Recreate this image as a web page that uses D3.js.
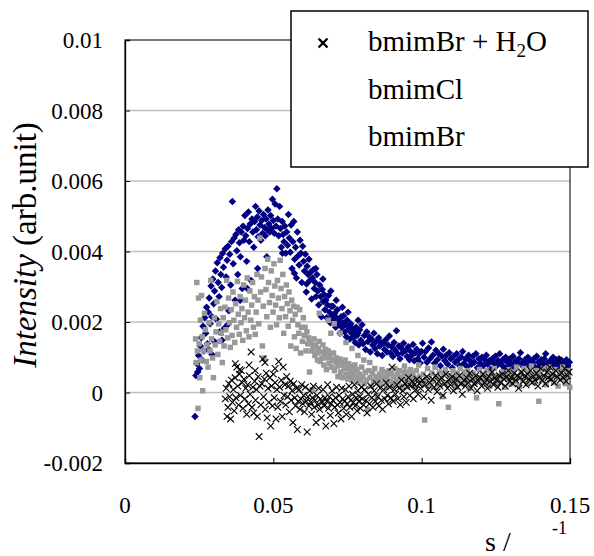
<!DOCTYPE html>
<html>
<head>
<meta charset="utf-8">
<script src="https://cdn.jsdelivr.net/npm/d3@7"></script>
<style>
  body { margin: 0; background: #fff; }
</style>
</head>
<body>
<svg id="chart" width="594" height="556"></svg>
<script>
// s (1/A), intensity (arb.unit)
const bmimBr = [
  [0.0236,-0.00068],[0.0239,0.00048],[0.0242,0.00082],[0.0245,0.00058],[0.0248,0.00105],[0.0251,0.00068],[0.0254,0.00132],[0.0257,0.00155],[0.0260,0.00092],[0.0263,0.00188],
  [0.0266,0.00118],[0.0269,0.00212],[0.0272,0.00168],[0.0275,0.00242],[0.0278,0.00138],[0.0281,0.00228],[0.0284,0.00268],[0.0287,0.00195],[0.0290,0.00302],[0.0293,0.00215],
  [0.0296,0.00322],[0.0299,0.00252],[0.0302,0.00288],[0.0305,0.00345],[0.0308,0.00208],[0.0311,0.00368],[0.0314,0.00312],[0.0317,0.00272],[0.0320,0.00382],[0.0323,0.00335],
  [0.0326,0.00298],[0.0329,0.00395],[0.0332,0.00355],[0.0335,0.00182],[0.0338,0.00408],[0.0341,0.00328],[0.0344,0.00375],[0.0347,0.00415],[0.0350,0.00232],[0.0283,0.00122],
  [0.0301,0.00145],[0.0318,0.00172],[0.0353,0.00392],[0.0356,0.00305],[0.0359,0.00428],[0.0362,0.00542],[0.0365,0.00365],[0.0368,0.00438],[0.0371,0.00262],[0.0374,0.00448],
  [0.0377,0.00402],[0.0380,0.00335],[0.0383,0.00462],[0.0386,0.00425],[0.0389,0.00385],[0.0392,0.00455],[0.0395,0.00295],[0.0398,0.00472],[0.0401,0.00432],[0.0404,0.00502],
  [0.0407,0.00445],[0.0410,0.00372],[0.0413,0.00465],[0.0416,0.00512],[0.0419,0.00428],[0.0422,0.00478],[0.0425,0.00318],[0.0428,0.00492],[0.0431,0.00455],[0.0434,0.00412],
  [0.0437,0.00485],[0.0440,0.00528],[0.0443,0.00462],[0.0446,0.00498],[0.0449,0.00442],[0.0452,0.00515],[0.0455,0.00475],[0.0458,0.00432],[0.0461,0.00488],[0.0464,0.00452],
  [0.0467,0.00505],[0.0470,0.00468],[0.0473,0.00445],[0.0476,0.00492],[0.0479,0.00462],[0.0482,0.00518],[0.0485,0.00478],[0.0488,0.00455],[0.0491,0.00502],[0.0494,0.00465],
  [0.0497,0.00548],[0.0500,0.00488],[0.0503,0.00452],[0.0506,0.00535],[0.0509,0.00472],[0.0512,0.00578],[0.0515,0.00492],[0.0518,0.00445],[0.0521,0.00528],[0.0524,0.00465],
  [0.0527,0.00412],[0.0530,0.00485],[0.0533,0.00448],[0.0536,0.00428],[0.0539,0.00472],[0.0542,0.00395],[0.0545,0.00455],[0.0548,0.00418],[0.0551,0.00505],[0.0554,0.00438],
  [0.0557,0.00398],[0.0560,0.00475],[0.0563,0.00352],[0.0566,0.00428],[0.0569,0.00485],[0.0572,0.00378],[0.0575,0.00412],[0.0578,0.00325],[0.0581,0.00455],[0.0584,0.00388],
  [0.0587,0.00362],[0.0590,0.00432],[0.0593,0.00395],[0.0596,0.00312],[0.0599,0.00415],[0.0602,0.00372],[0.0605,0.00345],[0.0608,0.00392],[0.0611,0.00285],[0.0614,0.00358],
  [0.0617,0.00335],[0.0620,0.00378],[0.0623,0.00318],[0.0626,0.00342],[0.0629,0.00265],[0.0632,0.00325],[0.0635,0.00348],[0.0638,0.00295],[0.0641,0.00312],[0.0644,0.00272],
  [0.0647,0.00335],[0.0650,0.00288],[0.0653,0.00248],[0.0656,0.00305],[0.0659,0.00272],[0.0662,0.00215],[0.0665,0.00292],[0.0668,0.00258],[0.0671,0.00278],[0.0674,0.00235],
  [0.0677,0.00262],[0.0680,0.00212],[0.0683,0.00248],[0.0686,0.00275],[0.0689,0.00228],[0.0692,0.00198],[0.0695,0.00245],[0.0698,0.00218],[0.0701,0.00245],[0.0704,0.00205],
  [0.0707,0.00225],[0.0710,0.00185],[0.0713,0.00212],[0.0716,0.00235],[0.0719,0.00192],[0.0722,0.00205],[0.0725,0.00168],[0.0728,0.00215],[0.0731,0.00185],[0.0734,0.00198],
  [0.0737,0.00218],[0.0740,0.00172],[0.0743,0.00192],[0.0746,0.00158],[0.0749,0.00205],[0.0752,0.00178],[0.0755,0.00188],[0.0758,0.00152],[0.0761,0.00195],[0.0764,0.00168],
  [0.0767,0.00182],[0.0770,0.00155],[0.0773,0.00175],[0.0776,0.00142],[0.0779,0.00185],[0.0782,0.00162],[0.0785,0.00168],[0.0788,0.00135],[0.0791,0.00178],[0.0795,0.00148],
  [0.0799,0.00192],[0.0803,0.00138],[0.0807,0.00162],[0.0811,0.00122],[0.0815,0.00172],[0.0819,0.00145],[0.0823,0.00158],[0.0827,0.00115],[0.0831,0.00152],[0.0835,0.00135],
  [0.0839,0.00168],[0.0843,0.00125],[0.0847,0.00145],[0.0851,0.00110],[0.0855,0.00155],[0.0859,0.00132],[0.0863,0.00142],[0.0867,0.00105],[0.0871,0.00140],[0.0875,0.00122],
  [0.0879,0.00150],[0.0883,0.00115],[0.0887,0.00135],[0.0891,0.00160],[0.0895,0.00112],[0.0899,0.00130],[0.0903,0.00102],[0.0907,0.00142],[0.0911,0.00120],[0.0915,0.00175],
  [0.0919,0.00110],[0.0923,0.00132],[0.0927,0.00096],[0.0931,0.00126],[0.0935,0.00112],[0.0939,0.00140],[0.0943,0.00057],[0.0947,0.00120],[0.0951,0.00102],[0.0955,0.00130],
  [0.0959,0.00093],[0.0963,0.00116],[0.0967,0.00106],[0.0971,0.00136],[0.0975,0.00090],[0.0979,0.00113],[0.0983,0.00123],[0.0987,0.00096],[0.0991,0.00110],[0.0995,0.00084],
  [0.0999,0.00116],[0.1003,0.00140],[0.1008,0.00100],[0.1013,0.00116],[0.1018,0.00086],[0.1023,0.00126],[0.1028,0.00096],[0.1033,0.00143],[0.1038,0.00106],[0.1043,0.00083],
  [0.1048,0.00120],[0.1053,0.00093],[0.1058,0.00110],[0.1063,0.00076],[0.1068,0.00103],[0.1073,0.00123],[0.1078,0.00090],[0.1083,0.00106],[0.1088,0.00080],[0.1093,0.00113],
  [0.1098,0.00096],[0.1103,0.00070],[0.1108,0.00103],[0.1113,0.00086],[0.1118,0.00110],[0.1123,0.00093],[0.1128,0.00076],[0.1133,0.00100],[0.1138,0.00116],[0.1143,0.00083],
  [0.1148,0.00096],[0.1153,0.00073],[0.1158,0.00106],[0.1163,0.00090],[0.1168,0.00080],[0.1173,0.00103],[0.1178,0.00086],[0.1183,0.00110],[0.1188,0.00070],[0.1193,0.00096],
  [0.1198,0.00083],[0.1203,0.00100],[0.1208,0.00076],[0.1213,0.00093],[0.1218,0.00106],[0.1223,0.00080],[0.1228,0.00090],[0.1233,0.00066],[0.1238,0.00096],[0.1243,0.00083],
  [0.1248,0.00103],[0.1253,0.00076],[0.1258,0.00090],[0.1263,0.00110],[0.1268,0.00080],[0.1273,0.00093],[0.1278,0.00070],[0.1283,0.00100],[0.1288,0.00086],[0.1293,0.00076],
  [0.1298,0.00096],[0.1303,0.00083],[0.1308,0.00103],[0.1313,0.00070],[0.1318,0.00090],[0.1323,0.00080],[0.1328,0.00096],[0.1333,0.00113],[0.1338,0.00083],[0.1343,0.00073],
  [0.1348,0.00093],[0.1353,0.00086],[0.1358,0.00100],[0.1363,0.00076],[0.1368,0.00090],[0.1373,0.00083],[0.1378,0.00096],[0.1383,0.00070],[0.1388,0.00103],[0.1393,0.00086],
  [0.1398,0.00076],[0.1403,0.00093],[0.1408,0.00080],[0.1413,0.00096],[0.1418,0.00110],[0.1423,0.00083],[0.1428,0.00070],[0.1433,0.00090],[0.1438,0.00086],[0.1443,0.00100],
  [0.1448,0.00076],[0.1453,0.00093],[0.1458,0.00083],[0.1463,0.00096],[0.1468,0.00073],[0.1473,0.00090],[0.1478,0.00086],[0.1483,0.00080],[0.1488,0.00093],[0.1493,0.00076],
  [0.1498,0.00086],[0.0293,0.00108],[0.0327,0.00148],[0.0346,0.00192],[0.0388,0.00262],[0.0412,0.00295],[0.0447,0.00352],[0.0478,0.00385],[0.0531,0.00395],[0.0571,0.00338],
  [0.0612,0.00308],[0.0643,0.00352],[0.0667,0.00322],[0.0694,0.00288],[0.0712,0.00262],[0.0733,0.00242],[0.0752,0.00228],[0.0786,0.00205]
]

const bmimCl = [
  [0.0238,0.00152],[0.0240,0.00085],[0.0242,0.00312],[0.0244,0.00118],[0.0246,-0.00045],[0.0248,0.00268],[0.0250,0.00138],[0.0252,0.00042],[0.0254,0.00205],[0.0256,0.00092],
  [0.0258,0.00275],[0.0260,0.00158],[0.0262,0.00005],[0.0265,0.00118],[0.0268,0.00225],[0.0271,0.00178],[0.0274,0.00088],[0.0277,0.00135],[0.0280,0.00072],[0.0283,0.00198],
  [0.0286,0.00118],[0.0289,0.00318],[0.0292,0.00152],[0.0295,0.00098],[0.0298,0.00042],[0.0301,0.00212],[0.0304,0.00135],[0.0307,0.00172],[0.0310,0.00258],[0.0313,0.00108],
  [0.0316,0.00195],[0.0319,0.00145],[0.0322,0.00238],[0.0325,0.00168],[0.0328,0.00085],[0.0331,0.00212],[0.0334,0.00132],[0.0337,0.00242],[0.0340,0.00178],[0.0343,0.00318],
  [0.0346,0.00155],[0.0349,0.00268],[0.0352,0.00198],[0.0355,0.00128],[0.0358,0.00235],[0.0361,0.00162],[0.0364,0.00285],[0.0367,0.00205],[0.0370,0.00142],[0.0373,0.00252],
  [0.0376,0.00185],[0.0379,0.00315],[0.0382,0.00222],[0.0385,0.00165],[0.0388,0.00272],[0.0391,0.00198],[0.0394,0.00238],[0.0397,0.00148],[0.0400,0.00305],[0.0403,0.00212],
  [0.0406,0.00262],[0.0409,0.00175],[0.0412,0.00325],[0.0415,0.00228],[0.0418,0.00158],[0.0421,0.00288],[0.0424,0.00205],[0.0427,0.00248],[0.0430,0.00312],[0.0433,0.00185],
  [0.0436,0.00272],[0.0439,0.00165],[0.0442,0.00228],[0.0445,0.00335],[0.0448,0.00262],[0.0451,0.00195],[0.0454,0.00438],[0.0457,0.00285],[0.0460,0.00328],[0.0463,0.00132],
  [0.0466,0.00245],[0.0469,0.00098],[0.0472,0.00352],[0.0475,0.00292],[0.0478,0.00215],[0.0481,0.00378],[0.0484,0.00312],[0.0487,0.00255],[0.0490,0.00185],[0.0493,0.00345],
  [0.0496,0.00275],[0.0499,0.00228],[0.0502,0.00365],[0.0505,0.00302],[0.0508,0.00248],[0.0511,0.00192],[0.0514,0.00318],[0.0517,0.00268],[0.0520,0.00212],[0.0523,0.00375],
  [0.0526,0.00295],[0.0529,0.00238],[0.0532,0.00335],[0.0535,0.00168],[0.0538,0.00272],[0.0541,0.00215],[0.0544,0.00305],[0.0547,0.00252],[0.0550,0.00188],[0.0553,0.00285],
  [0.0556,0.00232],[0.0559,0.00132],[0.0562,0.00262],[0.0565,0.00205],[0.0568,0.00245],[0.0571,0.00158],[0.0574,0.00222],[0.0577,0.00125],[0.0580,0.00242],[0.0583,0.00192],
  [0.0586,0.00168],[0.0589,0.00235],[0.0592,0.00112],[0.0595,0.00185],[0.0598,0.00145],[0.0601,0.00212],[0.0604,0.00162],[0.0607,0.00185],[0.0610,0.00118],[0.0613,0.00172],
  [0.0616,0.00138],[0.0619,0.00155],[0.0622,0.00058],[0.0625,0.00142],[0.0628,0.00118],[0.0631,0.00008],[0.0634,0.00128],[0.0637,0.00152],[0.0640,0.00105],[0.0643,0.00135],
  [0.0646,0.00112],[0.0649,0.00092],[0.0652,0.00125],[0.0655,0.00145],[0.0658,0.00088],[0.0661,0.00115],[0.0664,0.00098],[0.0667,0.00135],[0.0670,0.00078],[0.0673,0.00108],
  [0.0676,0.00122],[0.0679,0.00065],[0.0682,0.00098],[0.0685,0.00118],[0.0688,0.00082],[0.0691,0.00105],[0.0694,0.00168],[0.0697,0.00072],[0.0700,0.00092],[0.0703,0.00112],
  [0.0706,0.00062],[0.0709,0.00088],[0.0712,0.00098],[0.0715,0.00075],[0.0718,0.00045],[0.0721,0.00082],[0.0724,0.00095],[0.0727,0.00058],[0.0730,0.00078],[0.0733,0.00042],
  [0.0736,0.00085],[0.0739,0.00068],[0.0742,0.00092],[0.0745,0.00052],[0.0748,0.00072],[0.0751,0.00038],[0.0754,0.00082],[0.0757,0.00062],[0.0760,0.00048],[0.0763,0.00075],
  [0.0766,0.00035],[0.0769,0.00068],[0.0772,0.00055],[0.0775,0.00078],[0.0778,0.00042],[0.0782,0.00065],[0.0786,0.00028],[0.0790,0.00052],[0.0794,0.00038],[0.0798,0.00072],
  [0.0802,0.00045],[0.0806,0.00025],[0.0810,0.00058],[0.0814,0.00035],[0.0818,-0.00048],[0.0822,0.00062],[0.0826,0.00042],[0.0830,0.00018],[0.0834,0.00055],[0.0838,0.00032],
  [0.0842,0.00068],[0.0846,0.00045],[0.0850,-0.00008],[0.0854,0.00038],[0.0858,0.00052],[0.0862,0.00025],[0.0866,0.00065],[0.0870,0.00042],[0.0874,0.00058],[0.0878,0.00035],
  [0.0882,0.00015],[0.0886,0.00048],[0.0890,0.00062],[0.0894,0.00032],[0.0898,0.00055],[0.0902,0.00022],[0.0906,0.00045],[0.0910,0.00068],[0.0914,0.00035],[0.0918,0.00052],
  [0.0922,0.00028],[0.0926,0.00062],[0.0930,0.00042],[0.0934,0.00018],[0.0938,0.00055],[0.0942,0.00075],[0.0946,0.00038],[0.0950,0.00058],[0.0954,0.00025],[0.0958,0.00048],
  [0.0962,0.00065],[0.0966,0.00032],[0.0970,0.00055],[0.0974,0.00042],[0.0978,0.00015],[0.0982,0.00062],[0.0986,0.00038],[0.0990,0.00078],[0.0994,0.00045],[0.0998,0.00028],
  [0.1005,0.00052],[0.1010,-0.00078],[0.1015,0.00035],[0.1020,0.00068],[0.1025,0.00042],[0.1030,0.00018],[0.1035,0.00055],[0.1040,0.00032],[0.1045,0.00072],[0.1050,0.00045],
  [0.1055,0.00022],[0.1060,0.00058],[0.1065,0.00038],[0.1070,-0.00012],[0.1075,0.00052],[0.1080,0.00065],[0.1085,0.00028],[0.1090,-0.00042],[0.1095,0.00048],[0.1100,0.00035],
  [0.1105,0.00062],[0.1110,0.00042],[0.1115,0.00015],[0.1120,0.00055],[0.1125,0.00032],[0.1130,0.00068],[0.1135,0.00045],[0.1140,0.00025],[0.1145,0.00058],[0.1150,0.00038],
  [0.1155,0.00062],[0.1160,0.00012],[0.1165,0.00048],[0.1170,0.00035],[0.1175,0.00055],[0.1180,0.00028],[0.1185,-0.00015],[0.1190,0.00042],[0.1195,0.00065],[0.1200,0.00038],
  [0.1205,0.00052],[0.1210,0.00022],[0.1215,0.00045],[0.1220,0.00062],[0.1225,0.00032],[0.1230,0.00018],[0.1235,0.00055],[0.1240,0.00042],[0.1245,0.00068],[0.1250,0.00028],
  [0.1255,0.00048],[0.1260,-0.00032],[0.1265,0.00035],[0.1270,0.00058],[0.1275,0.00042],[0.1280,0.00015],[0.1285,0.00052],[0.1290,0.00038],[0.1295,0.00065],[0.1300,0.00025],
  [0.1305,0.00045],[0.1310,0.00058],[0.1315,0.00032],[0.1320,0.00072],[0.1325,0.00042],[0.1330,0.00018],[0.1335,0.00055],[0.1340,0.00035],[0.1345,0.00068],[0.1350,0.00045],
  [0.1355,0.00025],[0.1360,0.00058],[0.1365,0.00038],[0.1370,0.00075],[0.1375,0.00048],[0.1380,0.00028],[0.1385,0.00062],[0.1390,0.00042],[0.1395,-0.00025],[0.1400,0.00055],
  [0.1405,0.00035],[0.1410,0.00068],[0.1415,0.00045],[0.1420,0.00022],[0.1425,0.00058],[0.1430,0.00072],[0.1435,0.00038],[0.1440,0.00052],[0.1445,0.00028],[0.1450,0.00065],
  [0.1455,0.00045],[0.1460,0.00018],[0.1465,0.00058],[0.1470,0.00038],[0.1475,0.00072],[0.1480,0.00048],[0.1485,0.00025],[0.1490,0.00062],[0.1495,0.00042],[0.1499,0.00015],
  [0.0655,0.00225],[0.0685,0.00205],[0.0705,0.00195],[0.0725,0.00168],[0.0745,0.00142],[0.0765,0.00125],[0.0785,0.00105],[0.0805,0.00092],[0.0825,0.00085]
]

const bmimBrH2O = [
  [0.0338,-0.00018],[0.0341,0.00012],[0.0344,-0.00068],[0.0347,-0.00042],[0.0350,0.00025],[0.0353,-0.00012],[0.0356,-0.00075],[0.0359,0.00035],[0.0362,-0.00028],[0.0365,0.00008],
  [0.0368,-0.00052],[0.0371,0.00042],[0.0374,-0.00015],[0.0377,0.00072],[0.0380,0.00018],[0.0383,-0.00035],[0.0386,0.00052],[0.0389,-0.00008],[0.0392,0.00062],[0.0395,0.00028],
  [0.0398,-0.00045],[0.0401,0.00038],[0.0404,-0.00018],[0.0407,0.00012],[0.0410,-0.00062],[0.0413,0.00022],[0.0416,-0.00032],[0.0419,0.00048],[0.0422,-0.00005],[0.0425,0.00115],
  [0.0428,-0.00042],[0.0431,0.00015],[0.0434,-0.00058],[0.0437,0.00032],[0.0440,-0.00022],[0.0443,0.00008],[0.0446,-0.00068],[0.0449,0.00045],[0.0452,-0.00125],[0.0455,0.00018],
  [0.0458,-0.00035],[0.0461,0.00025],[0.0464,0.00095],[0.0467,-0.00012],[0.0470,0.00038],[0.0473,-0.00048],[0.0476,0.00055],[0.0479,-0.00072],[0.0482,0.00012],[0.0485,-0.00028],
  [0.0488,0.00042],[0.0491,-0.00095],[0.0494,0.00018],[0.0497,-0.00038],[0.0500,0.00052],[0.0503,-0.00015],[0.0506,0.00028],[0.0509,-0.00075],[0.0512,0.00008],[0.0515,-0.00042],
  [0.0518,0.00088],[0.0521,0.00015],[0.0524,-0.00025],[0.0527,0.00035],[0.0530,-0.00068],[0.0533,0.00072],[0.0536,-0.00008],[0.0539,0.00022],[0.0542,-0.00035],[0.0545,0.00045],
  [0.0548,-0.00012],[0.0551,0.00018],[0.0554,-0.00055],[0.0557,0.00032],[0.0560,-0.00022],[0.0563,0.00005],[0.0566,-0.00085],[0.0569,0.00025],[0.0572,-0.00015],[0.0575,-0.00038],
  [0.0578,0.00012],[0.0581,-0.00105],[0.0584,-0.00025],[0.0587,0.00008],[0.0590,-0.00048],[0.0593,-0.00018],[0.0596,0.00022],[0.0599,-0.00032],[0.0602,-0.00008],[0.0605,-0.00055],
  [0.0608,0.00015],[0.0611,-0.00025],[0.0614,-0.00112],[0.0617,-0.00012],[0.0620,-0.00038],[0.0623,0.00005],[0.0626,-0.00028],[0.0629,-0.00062],[0.0632,-0.00015],[0.0635,0.00018],
  [0.0638,-0.00042],[0.0641,-0.00022],[0.0644,-0.00085],[0.0647,-0.00008],[0.0650,-0.00035],[0.0653,0.00012],[0.0656,-0.00048],[0.0659,-0.00018],[0.0662,-0.00072],[0.0665,-0.00028],
  [0.0668,0.00008],[0.0671,-0.00038],[0.0674,-0.00015],[0.0677,-0.00095],[0.0680,-0.00025],[0.0683,0.00022],[0.0686,-0.00045],[0.0689,-0.00012],[0.0692,-0.00065],[0.0695,-0.00032],
  [0.0698,0.00005],[0.0701,-0.00022],[0.0704,-0.00088],[0.0707,-0.00042],[0.0710,-0.00015],[0.0713,0.00015],[0.0716,-0.00035],[0.0719,-0.00058],[0.0722,-0.00008],[0.0725,-0.00028],
  [0.0728,-0.00075],[0.0731,0.00012],[0.0734,-0.00018],[0.0737,-0.00045],[0.0740,-0.00025],[0.0743,0.00008],[0.0746,-0.00062],[0.0749,-0.00032],[0.0752,-0.00012],[0.0755,0.00018],
  [0.0758,-0.00042],[0.0761,-0.00022],[0.0764,-0.00068],[0.0767,-0.00005],[0.0770,-0.00028],[0.0773,0.00022],[0.0776,-0.00038],[0.0779,-0.00015],[0.0782,-0.00052],[0.0785,0.00005],
  [0.0788,-0.00025],[0.0791,-0.00012],[0.0794,-0.00045],[0.0797,0.00015],[0.0800,-0.00018],[0.0804,-0.00035],[0.0808,0.00008],[0.0812,-0.00022],[0.0816,-0.00058],[0.0820,-0.00005],
  [0.0824,-0.00032],[0.0828,0.00018],[0.0832,-0.00015],[0.0836,-0.00042],[0.0840,0.00005],[0.0844,-0.00025],[0.0848,0.00025],[0.0852,-0.00012],[0.0856,-0.00038],[0.0860,0.00012],
  [0.0864,-0.00022],[0.0868,-0.00048],[0.0872,0.00008],[0.0876,-0.00018],[0.0880,0.00028],[0.0884,-0.00008],[0.0888,-0.00032],[0.0892,0.00015],[0.0896,-0.00015],[0.0900,0.00072],
  [0.0904,-0.00025],[0.0908,0.00008],[0.0912,-0.00005],[0.0916,0.00022],[0.0920,-0.00018],[0.0924,0.00012],[0.0928,-0.00035],[0.0932,0.00035],[0.0936,0.00005],[0.0940,-0.00012],
  [0.0944,0.00025],[0.0948,-0.00028],[0.0952,0.00015],[0.0956,0.00042],[0.0960,-0.00008],[0.0964,0.00018],[0.0968,0.00032],[0.0972,-0.00018],[0.0976,0.00022],[0.0980,0.00008],
  [0.0984,0.00038],[0.0988,-0.00005],[0.0992,0.00025],[0.0996,0.00012],[0.1002,0.00035],[0.1007,-0.00012],[0.1012,0.00022],[0.1017,0.00045],[0.1022,0.00008],[0.1027,0.00028],
  [0.1032,-0.00022],[0.1037,0.00038],[0.1042,0.00015],[0.1047,0.00048],[0.1052,0.00002],[0.1057,0.00032],[0.1062,0.00018],[0.1067,0.00042],[0.1072,-0.00008],[0.1077,0.00025],
  [0.1082,0.00052],[0.1087,0.00012],[0.1092,0.00035],[0.1097,0.00022],[0.1102,0.00045],[0.1107,0.00005],[0.1112,0.00028],[0.1117,0.00038],[0.1122,0.00015],[0.1127,0.00048],
  [0.1132,0.00025],[0.1137,-0.00005],[0.1142,0.00035],[0.1147,0.00018],[0.1152,0.00042],[0.1157,0.00028],[0.1162,0.00055],[0.1167,0.00012],[0.1172,0.00038],[0.1177,0.00025],
  [0.1182,0.00048],[0.1187,0.00005],[0.1192,0.00032],[0.1197,0.00042],[0.1202,0.00018],[0.1207,0.00052],[0.1212,0.00028],[0.1217,0.00038],[0.1222,0.00012],[0.1227,0.00045],
  [0.1232,0.00032],[0.1237,0.00058],[0.1242,0.00022],[0.1247,0.00042],[0.1252,0.00035],[0.1257,0.00015],[0.1262,0.00048],[0.1267,0.00028],[0.1272,0.00052],[0.1277,0.00038],
  [0.1282,0.00018],[0.1287,0.00045],[0.1292,0.00062],[0.1297,0.00032],[0.1302,0.00042],[0.1307,0.00025],[0.1312,0.00055],[0.1317,0.00035],[0.1322,0.00048],[0.1327,0.00012],
  [0.1332,0.00042],[0.1337,0.00058],[0.1342,0.00032],[0.1347,0.00045],[0.1352,0.00022],[0.1357,0.00052],[0.1362,0.00038],[0.1367,0.00062],[0.1372,0.00028],[0.1377,0.00045],
  [0.1382,0.00035],[0.1387,0.00055],[0.1392,0.00018],[0.1397,0.00042],[0.1402,0.00068],[0.1407,0.00035],[0.1412,0.00048],[0.1417,0.00025],[0.1422,0.00058],[0.1427,0.00042],
  [0.1432,0.00072],[0.1437,0.00038],[0.1442,0.00052],[0.1447,0.00028],[0.1452,0.00062],[0.1457,0.00045],[0.1462,0.00092],[0.1467,0.00035],[0.1472,0.00055],[0.1477,0.00042],
  [0.1482,0.00068],[0.1487,0.00032],[0.1492,0.00048],[0.1497,0.00058],[0.0372,0.00082],[0.0387,0.00065],[0.0418,0.00078],[0.0439,0.00062],[0.0472,0.00085],[0.0506,0.00068]
]

const xTicks = [0, 0.05, 0.1, 0.15]
const yTicks = [-0.002, 0, 0.002, 0.004, 0.006, 0.008, 0.01]
const legendNames = ['bmimBr + H', 'bmimCl', 'bmimBr']

const serif = '"Liberation Serif", "Times New Roman", serif'

const svg = d3.select('#chart')

const plot = { left: 125, right: 570, top: 40, bottom: 463 }

const x = d3.scaleLinear().domain([0, 0.15]).range([plot.left, plot.right])
const y = d3.scaleLinear().domain([-0.002, 0.01]).range([plot.bottom, plot.top])

const fmt = d => d === 0 ? '0' : String(+d.toFixed(3))

// gridlines
svg.append('g')
    .selectAll('line')
    .data(yTicks.filter(d => d > -0.002 && d < 0.01))
    .join('line')
    .attr('x1', plot.left)
    .attr('x2', plot.right)
    .attr('y1', d => y(d))
    .attr('y2', d => y(d))
    .attr('stroke', '#c0c0c0')
    .attr('stroke-width', 1.3)

// frame
svg.append('rect')
    .attr('x', plot.left)
    .attr('y', plot.top)
    .attr('width', plot.right - plot.left)
    .attr('height', plot.bottom - plot.top)
    .attr('fill', 'none')
    .attr('stroke', '#303030')
    .attr('stroke-width', 1.3)

// axes with inner ticks
const yAxis = svg.append('g')
    .attr('transform', `translate(${plot.left},0)`)
    .call(d3.axisLeft(y).tickValues(yTicks).tickSize(-5).tickFormat(''))
yAxis.select('.domain').attr('stroke', '#000').attr('stroke-width', 1.3)
yAxis.selectAll('.tick line').attr('stroke', '#000')

const xAxis = svg.append('g')
    .attr('transform', `translate(0,${plot.bottom})`)
    .call(d3.axisBottom(x).tickValues(xTicks).tickSize(-5).tickFormat(''))
xAxis.select('.domain').attr('stroke', '#000').attr('stroke-width', 1.3)
xAxis.selectAll('.tick line').attr('stroke', '#000')

// tick labels
svg.append('g')
    .selectAll('text')
    .data(yTicks)
    .join('text')
    .attr('x', 103)
    .attr('y', d => y(d) + 8)
    .attr('text-anchor', 'end')
    .style('font-family', serif)
    .style('font-size', '23px')
    .text(fmt)

svg.append('g')
    .selectAll('text')
    .data(xTicks)
    .join('text')
    .attr('x', d => x(d))
    .attr('y', 513)
    .attr('text-anchor', 'middle')
    .style('font-family', serif)
    .style('font-size', '23px')
    .text(fmt)

// series
const diamond = d3.symbol().type(d3.symbolSquare).size(28)()
const square = d3.symbol().type(d3.symbolSquare).size(30)()
const cross = 'M-3.3,-3.3L3.3,3.3M-3.3,3.3L3.3,-3.3'

svg.append('g')
    .selectAll('path')
    .data(bmimBr)
    .join('path')
    .attr('d', diamond)
    .attr('transform', d => `translate(${x(d[0])},${y(d[1])}) rotate(45)`)
    .attr('fill', '#000080')

svg.append('g')
    .selectAll('path')
    .data(bmimCl)
    .join('path')
    .attr('d', square)
    .attr('transform', d => `translate(${x(d[0])},${y(d[1])})`)
    .attr('fill', '#999999')

svg.append('g')
    .selectAll('path')
    .data(bmimBrH2O)
    .join('path')
    .attr('d', cross)
    .attr('transform', d => `translate(${x(d[0])},${y(d[1])})`)
    .attr('stroke', '#000')
    .attr('stroke-width', 1.1)
    .attr('fill', 'none')

// legend
const legend = svg.append('g')

legend.append('rect')
    .attr('x', 291)
    .attr('y', 11)
    .attr('width', 297)
    .attr('height', 156)
    .attr('fill', '#fff')
    .attr('stroke', '#000')
    .attr('stroke-width', 1.5)

legend.append('path')
    .attr('d', 'M-4.5,-4.5L4.5,4.5M-4.5,4.5L4.5,-4.5')
    .attr('transform', 'translate(323,43)')
    .attr('stroke', '#000')
    .attr('stroke-width', 2.4)

const rows = legend.selectAll('text')
    .data(legendNames)
    .join('text')
    .attr('x', 368)
    .attr('y', (d, i) => 51 + i * 47.5)
    .style('font-family', serif)
    .style('font-size', '29px')
    .text(d => d)

rows.filter((d, i) => i === 0)
    .append('tspan')
    .attr('dy', 6)
    .style('font-size', '19px')
    .text('2')
rows.filter((d, i) => i === 0)
    .append('tspan')
    .attr('dy', -6)
    .text('O')

// axis titles
const yTitle = svg.append('text')
    .attr('transform', 'translate(36,245) rotate(-90)')
    .attr('text-anchor', 'middle')
    .style('font-family', serif)
    .style('font-size', '33px')
yTitle.append('tspan').style('font-style', 'italic').text('Intensity')
yTitle.append('tspan').text(' (arb.unit)')

svg.append('text')
    .attr('x', 485)
    .attr('y', 551)
    .style('font-family', serif)
    .style('font-size', '28px')
    .text('s /')

svg.append('text')
    .attr('x', 552)
    .attr('y', 534)
    .style('font-family', serif)
    .style('font-size', '18px')
    .text('-1')
</script>
</body>
</html>
